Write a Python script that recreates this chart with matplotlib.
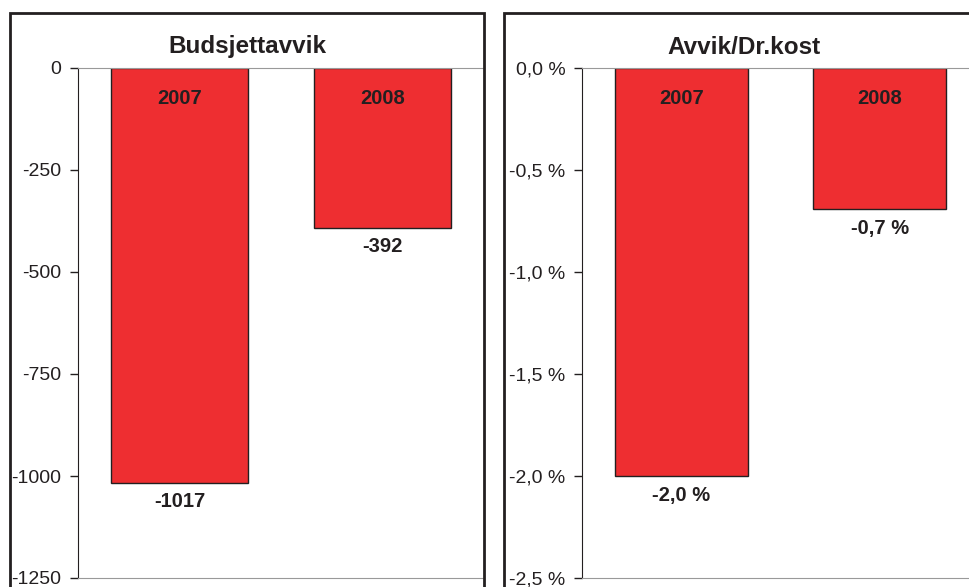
import matplotlib.pyplot as plt
from matplotlib.patches import Rectangle

plt.rcParams['font.family'] = ['Liberation Sans', 'DejaVu Sans']

years = ['2007', '2008']
budsjettavvik = [-1017, -392]
avvik_drkost = [-2.0, -0.69]
avvik_labels = ['-2,0 %', '-0,7 %']

left_ticks = [0, -250, -500, -750, -1000, -1250]
right_ticks = [0.0, -0.5, -1.0, -1.5, -2.0, -2.5]
right_ticklabels = ['0,0 %', '-0,5 %', '-1,0 %', '-1,5 %', '-2,0 %', '-2,5 %']

RED = '#ee2e31'
TXT = '#231f20'
W, H = 969, 587

fig = plt.figure(figsize=(W / 100, H / 100), dpi=100)

# panel frames (right one runs past the image edge)
fig.patches.append(Rectangle((10 / W, -0.1), 474 / W, 1.1 - 13 / H, transform=fig.transFigure,
                             fill=False, lw=2, ec=TXT))
fig.patches.append(Rectangle((504 / W, -0.1), 0.6, 1.1 - 13 / H, transform=fig.transFigure,
                             fill=False, lw=2, ec=TXT))


def panel(rect, vals, labels, ticks, ticklabels, lo, off):
    ax = fig.add_axes(rect)
    x = range(len(years))
    ax.bar(x, vals, width=0.67, color=RED, edgecolor=TXT, lw=1)
    ax.set_xlim(-0.5, 1.5)
    ax.set_ylim(lo, 0)
    ax.set_yticks(ticks)
    ax.set_yticklabels(ticklabels, fontsize=14, color=TXT)
    ax.set_xticks([])
    ax.tick_params(axis='y', direction='out', length=6, width=1, color=TXT, pad=6)
    ax.spines['right'].set_visible(False)
    ax.spines['top'].set_color('#999999')
    ax.spines['bottom'].set_color('#999999')
    ax.spines['left'].set_color(TXT)
    for i, v in enumerate(vals):
        ax.text(i, lo * 0.059, years[i], ha='center', va='center', fontsize=14.5,
                fontweight='bold', color=TXT)
        ax.text(i, v + off, labels[i], ha='center', va='center', fontsize=14.5,
                fontweight='bold', color=TXT)
    return ax


axl = panel([78 / W, (H - 578) / H, 406 / W, 510 / H], budsjettavvik,
            [str(v) for v in budsjettavvik], left_ticks, [str(t) for t in left_ticks],
            -1250, -46)
fig.text(247 / W, 1 - 47 / H, 'Budsjettavvik', ha='center', va='center', fontsize=17.5,
         fontweight='bold', color=TXT)

axr = panel([582 / W, (H - 578) / H, 397 / W, 510 / H], avvik_drkost, avvik_labels,
            right_ticks, right_ticklabels, -2.5, -0.095)
fig.text(744 / W, 1 - 47 / H, 'Avvik/Dr.kost', ha='center', va='center', fontsize=17.5,
         fontweight='bold', color=TXT)

fig.savefig('out.png', dpi=100)
